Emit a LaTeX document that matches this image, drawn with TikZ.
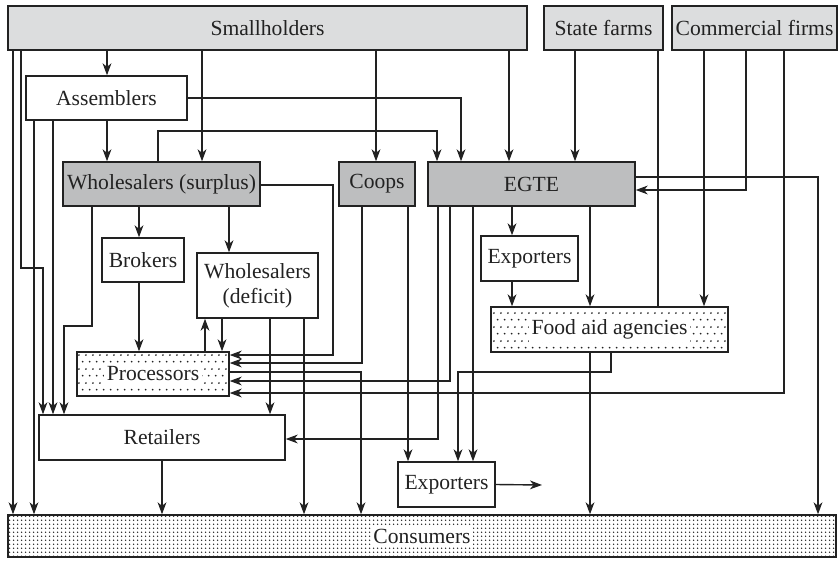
\documentclass[tikz,border=0pt]{standalone}
\usepackage{fontspec}
\setmainfont{Liberation Serif}
\usetikzlibrary{arrows.meta,patterns}
\pgfdeclarepatternformonly{sparsedots}{\pgfqpoint{0pt}{0pt}}{\pgfqpoint{3.4pt}{7pt}}{\pgfqpoint{3.4pt}{7pt}}{%
 \pgfpathcircle{\pgfqpoint{0.85pt}{1.75pt}}{0.5pt}%
 \pgfpathcircle{\pgfqpoint{2.55pt}{5.25pt}}{0.5pt}%
 \pgfusepath{fill}}
\pgfdeclarepatternformonly{densedots}{\pgfqpoint{0pt}{0pt}}{\pgfqpoint{2pt}{1.85pt}}{\pgfqpoint{2pt}{1.85pt}}{%
 \pgfpathcircle{\pgfqpoint{1pt}{0.925pt}}{0.42pt}%
 \pgfusepath{fill}}
\definecolor{lightbox}{HTML}{DCDDDE}
\definecolor{darkbox}{HTML}{BDBEBF}
\definecolor{ink}{HTML}{222222}
\begin{document}
\begin{tikzpicture}[x=0.5pt,y=-0.5pt,
  font=\fontsize{10.8}{12.6}\selectfont,
  every node/.style={text=ink},
  bx/.style={draw=ink,line width=0.7pt,inner sep=0pt,align=center},
  sz/.style 2 args={minimum width={#1*0.5pt},minimum height={#2*0.5pt}},
  light/.style={fill=lightbox},
  dark/.style={fill=darkbox},
  sparse/.style={pattern=sparsedots,pattern color=ink},
  dense/.style={pattern=densedots,pattern color=ink},
  lbl/.style={fill=white,inner sep=1.2pt},
  ln/.style={draw=ink,line width=0.7pt},
  arr/.style={ln,-{Stealth[length=6pt,width=4.4pt,inset=1.8pt]}}]
\useasboundingbox (0,0) rectangle (838,561);
% boxes
\node[bx,light,sz={519}{44}] (sh) at (267.5,28) {Smallholders};
\node[bx,light,sz={119}{44}] (sf) at (603.5,28) {State farms};
\node[bx,light,sz={165}{44}] (cf) at (754.5,28) {Commercial firms};
\node[bx,sz={161}{44}] (as) at (106.5,98) {Assemblers};
\node[bx,dark,sz={197}{44}] (wss) at (161.5,184) {Wholesalers (surplus)};
\node[bx,dark,sz={76}{44}] (coops) at (377,184) {Coops};
\node[bx,dark,sz={207}{44}] (egte) at (531.5,184) {EGTE};
\node[bx,sz={82}{44}] (br) at (143,260) {Brokers};
\node[bx,sz={121}{65}] (wsd) at (257.5,285.5) {Wholesalers\\(deficit)};
\node[bx,sparse,sz={152}{44}] (pr) at (153,374) {};
\node[lbl] (prt) at (pr.center) {Processors};
\node[bx,sz={97}{45}] (exu) at (529.5,258.5) {Exporters};
\node[bx,sparse,sz={237}{45}] (fa) at (609.5,329.5) {};
\node[lbl] (fat) at (fa.center) {Food aid agencies};
\node[bx,sz={246}{45}] (ret) at (162,437.5) {Retailers};
\node[bx,sz={97}{45}] (exl) at (446.5,484.5) {Exporters};
\node[bx,dense,sz={828}{42}] (cons) at (422,536) {};
\node[lbl] (const) at (cons.center) {Consumers};
\coordinate (expout) at (542,485);
% connectors from smallholders / state farms / commercial firms
\draw[arr] (13,0 |- sh.south) -- (13,0 |- cons.north);
\draw[arr] (21,0 |- sh.south) -- (21,268) -- (43,268) -- (43,0 |- ret.north);
\draw[arr] (107,0 |- sh.south) -- (107,0 |- as.north);
\draw[arr] (202,0 |- sh.south) -- (202,0 |- wss.north);
\draw[arr] (376,0 |- sh.south) -- (376,0 |- coops.north);
\draw[arr] (509,0 |- sh.south) -- (509,0 |- egte.north);
\draw[arr] (575,0 |- sf.south) -- (575,0 |- egte.north);
\draw[ln] (658,0 |- sf.south) -- (658,0 |- fa.north);
\draw[arr] (704,0 |- cf.south) -- (704,0 |- fa.north);
\draw[arr] (746,0 |- cf.south) -- (746,190) -- (egte.east |- 0,190);
\draw[arr] (784,0 |- cf.south) -- (784,393) -- (pr.east |- 0,393);
% assemblers
\draw[arr] (34,0 |- as.south) -- (34,0 |- cons.north);
\draw[arr] (53,0 |- as.south) -- (53,0 |- ret.north);
\draw[arr] (107,0 |- as.south) -- (107,0 |- wss.north);
\draw[arr] (as.east) -- (461,98) -- (461,0 |- egte.north);
% wholesalers (surplus)
\draw[arr] (158,0 |- wss.north) -- (158,131) -- (437,131) -- (437,0 |- egte.north);
\draw[arr] (92,0 |- wss.south) -- (92,326) -- (64,326) -- (64,0 |- ret.north);
\draw[arr] (139,0 |- wss.south) -- (139,0 |- br.north);
\draw[arr] (229,0 |- wss.south) -- (229,0 |- wsd.north);
\draw[arr] (wss.east |- 0,185) -- (333,185) -- (333,355) -- (pr.east |- 0,355);
% brokers, wholesalers (deficit)
\draw[arr] (139,0 |- br.south) -- (139,0 |- pr.north);
\draw[arr] (205,0 |- pr.north) -- (205,0 |- wsd.south);
\draw[arr] (222,0 |- wsd.south) -- (222,0 |- pr.north);
\draw[arr] (270,0 |- wsd.south) -- (270,0 |- ret.north);
\draw[arr] (304,0 |- wsd.south) -- (304,0 |- cons.north);
% coops
\draw[arr] (362,0 |- coops.south) -- (362,363) -- (pr.east |- 0,363);
\draw[arr] (408,0 |- coops.south) -- (408,0 |- exl.north);
% processors
\draw[arr] (pr.east |- 0,372) -- (361,372) -- (361,0 |- cons.north);
% EGTE
\draw[arr] (egte.east |- 0,177) -- (818,177) -- (818,0 |- cons.north);
\draw[arr] (438,0 |- egte.south) -- (438,439) -- (ret.east |- 0,439);
\draw[arr] (450,0 |- egte.south) -- (450,381) -- (pr.east |- 0,381);
\draw[arr] (473,0 |- egte.south) -- (473,0 |- exl.north);
\draw[arr] (512,0 |- egte.south) -- (512,0 |- exu.north);
\draw[arr] (590,0 |- egte.south) -- (590,0 |- fa.north);
\draw[arr] (512,0 |- exu.south) -- (512,0 |- fa.north);
% food aid agencies
\draw[arr] (590,0 |- fa.south) -- (590,0 |- cons.north);
\draw[arr] (611,0 |- fa.south) -- (611,372) -- (458,372) -- (458,0 |- exl.north);
% retailers, exporters
\draw[arr] (162,0 |- ret.south) -- (162,0 |- cons.north);
\draw[arr] (exl.east) -- (expout);
\end{tikzpicture}
\end{document}
